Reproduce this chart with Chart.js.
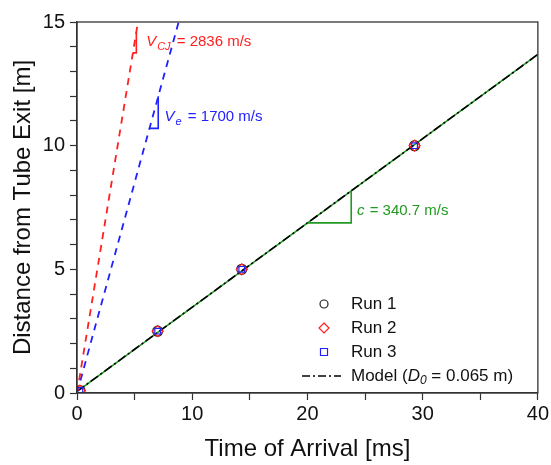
<!DOCTYPE html>
<html>
<head>
<meta charset="utf-8">
<script src="https://cdn.jsdelivr.net/npm/chart.js@4"></script>
<style>
 html,body{margin:0;padding:0;background:#fff;}
 #wrap{width:551px;height:465px;}
</style>
</head>
<body>
<div id="wrap"><canvas id="chart" width="551" height="465"></canvas></div>
<script>
// measured arrival data (ms, m)
const run1T=[0.25,7.0,14.3,29.3];
const run1D=[0.10,2.5,5.0,10.0];
const run2T=[0.25,7.0,14.3,29.3];
const run2D=[0.10,2.5,5.0,10.0];
const run3T=[0.25,7.0,14.3,29.3];
const run3D=[0.10,2.5,5.0,10.0];

// model + fit lines
const modelT=[0,40];
const modelD=[0.065,13.69];
const fitT=[0.2,40];
const fitD=[0.13,13.69];
const cjT=[0,5.29];
const cjD=[0,15];
const veT=[0,8.82];
const veD=[0,15];

// slope triangles
const triCjT=[4.85,5.15,5.15];
const triCjD=[13.75,13.75,14.6];
const triVeT=[6.3,7.05,7.05];
const triVeD=[10.7,10.7,12.0];
const triCT=[20.0,23.8,23.8];
const triCD=[6.88,6.88,8.17];

const xTicks=[0,10,20,30,40];
const yTicks=[0,5,10,15];

const RED='#ff2020', BLUE='#2020ff', GREEN='#229922';
const FONT='"Liberation Sans", Arial, sans-serif';

const pts=(xs,ys)=>xs.map((x,i)=>({x:x,y:ys[i]}));

function lineSet(xs,ys,color,dash,w,order){
 return {data:pts(xs,ys),showLine:true,borderColor:color,borderWidth:w||1.6,
  borderDash:dash||[],pointRadius:0,fill:false,tension:0,order:order};
}

// labels with subscripts, placed through the scales
const notes=[
 {t:6.0,d:14.2,main:'V',sub:'CJ',rest:' = 2836 m/s',color:RED},
 {t:7.6,d:11.15,main:'V',sub:'e',rest:' = 1700 m/s',color:BLUE},
 {t:24.3,d:7.35,main:'c',sub:'',rest:' = 340.7 m/s',color:GREEN}
];

const legendItems=[
 {label:'Run 1',type:'circle',color:'#222'},
 {label:'Run 2',type:'diamond',color:RED},
 {label:'Run 3',type:'square',color:BLUE},
 {label:'model',type:'line',color:'#000'}
];

const annot={
 id:'annot',
 afterDraw(chart){
  const c=chart.ctx, a=chart.chartArea, xs=chart.scales.x, ys=chart.scales.y;
  c.save();
  // frame
  c.strokeStyle='#333';c.lineWidth=1.3;
  c.strokeRect(a.left,a.top,a.right-a.left,a.bottom-a.top);
  // notes
  c.textBaseline='middle';
  notes.forEach(n=>{
   let x=xs.getPixelForValue(n.t), y=ys.getPixelForValue(n.d);
   c.fillStyle=n.color;
   c.font='italic 15px '+FONT;
   c.fillText(n.main,x,y);x+=c.measureText(n.main).width+1;
   if(n.sub){c.font='italic 11px '+FONT;c.fillText(n.sub,x,y+5);x+=c.measureText(n.sub).width+2;}
   c.font='15px '+FONT;c.fillText(n.rest,x,y);
  });
  // legend
  const lx=324, tx=351; let ly=304;
  legendItems.forEach(it=>{
   c.strokeStyle=it.color;c.lineWidth=1.2;c.setLineDash([]);
   c.beginPath();
   if(it.type==='circle'){c.arc(lx,ly,4,0,Math.PI*2);}
   else if(it.type==='diamond'){c.moveTo(lx,ly-5);c.lineTo(lx+5,ly);c.lineTo(lx,ly+5);c.lineTo(lx-5,ly);c.closePath();}
   else if(it.type==='square'){c.rect(lx-3.5,ly-3.5,7,7);}
   else{c.lineWidth=1.6;c.setLineDash([8,3,2,3]);c.moveTo(302,ly);c.lineTo(341,ly);}
   c.stroke();c.setLineDash([]);
   c.fillStyle='#111';c.font='17px '+FONT;
   if(it.type==='line'){
    let x=tx;
    const seg=(s,f,dy)=>{c.font=f;c.fillText(s,x,ly+(dy||0));x+=c.measureText(s).width;};
    seg('Model (','17px '+FONT);seg('D','italic 17px '+FONT);seg('0','italic 12px '+FONT,5);
    seg(' = 0.065 m)','17px '+FONT);
   }else c.fillText(it.label,tx,ly);
   ly+=24;
  });
  c.restore();
 }
};

new Chart(document.getElementById('chart'),{
 type:'scatter',
 data:{datasets:[
  {label:'Run 1',data:pts(run1T,run1D),pointStyle:'circle',pointRadius:5,borderColor:'#222',backgroundColor:'rgba(0,0,0,0)',borderWidth:1.2,order:3},
  {label:'Run 2',data:pts(run2T,run2D),pointStyle:'rectRot',pointRadius:5.5,borderColor:RED,backgroundColor:'rgba(0,0,0,0)',borderWidth:1.2,order:2},
  {label:'Run 3',data:pts(run3T,run3D),pointStyle:'rect',pointRadius:4,borderColor:BLUE,backgroundColor:'rgba(0,0,0,0)',borderWidth:1.2,order:1},
  lineSet(fitT,fitD,GREEN,[],1.6,10),
  lineSet(modelT,modelD,'#000',[9,3,2,3],1.6,9),
  lineSet(cjT,cjD,RED,[7,6],1.8,8),
  lineSet(veT,veD,BLUE,[7,6],1.8,8),
  lineSet(triCjT,triCjD,RED,[],1.6,7),
  lineSet(triVeT,triVeD,BLUE,[],1.6,7),
  lineSet(triCT,triCD,GREEN,[],1.6,7)
 ]},
 options:{
  responsive:false,animation:false,
  layout:{padding:{top:22,right:13,left:0,bottom:0}},
  plugins:{legend:{display:false},tooltip:{enabled:false}},
  scales:{
   x:{type:'linear',min:0,max:40,
    afterFit(s){s.height=72;},
    border:{display:true,color:'#333',width:1.3},
    grid:{drawOnChartArea:false,tickLength:7,tickColor:'#333',tickWidth:1.2},
    ticks:{stepSize:5,autoSkip:false,maxRotation:0,padding:2,color:'#111',font:{family:FONT,size:20},
     callback:v=>xTicks.includes(v)?String(v):''},
    title:{display:true,text:'Time of Arrival [ms]',color:'#111',font:{family:FONT,size:24},padding:{top:0,bottom:1}}
   },
   y:{type:'linear',min:0,max:15,
    afterFit(s){s.width=77;},
    border:{display:true,color:'#333',width:1.3},
    grid:{drawOnChartArea:false,tickLength:7,tickColor:'#333',tickWidth:1.2},
    ticks:{stepSize:1,autoSkip:false,padding:5,color:'#111',font:{family:FONT,size:20},
     callback:v=>yTicks.includes(v)?String(v):''},
    title:{display:true,text:'Distance from Tube Exit [m]',color:'#111',font:{family:FONT,size:24},padding:{top:9,bottom:0}}
   }
  }
 },
 plugins:[annot]
});
</script>
</body>
</html>
